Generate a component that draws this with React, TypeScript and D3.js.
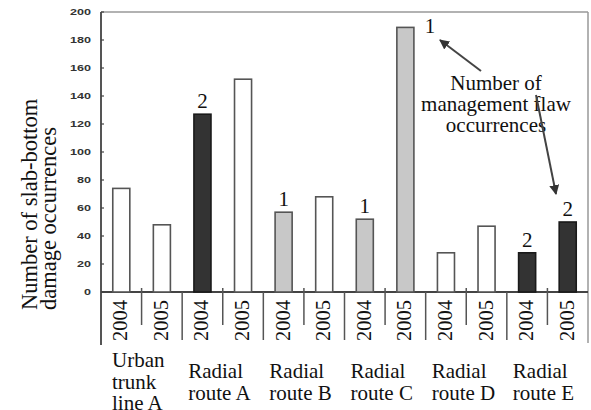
import React from "react";
import * as d3 from "d3";

const routes = ["Urban trunk line A", "Radial route A", "Radial route B", "Radial route C", "Radial route D", "Radial route E"];
const routeLabelLines = [["Urban", "trunk", "line A"], ["Radial", "route A"], ["Radial", "route B"], ["Radial", "route C"], ["Radial", "route D"], ["Radial", "route E"]];
const years = ["2004", "2005"];
const damageValues = [74, 48, 127, 152, 57, 68, 52, 189, 28, 47, 28, 50];
const flawCounts = [0, 0, 2, 0, 1, 0, 1, 1, 0, 0, 2, 2];
const yTicks = [0, 20, 40, 60, 80, 100, 120, 140, 160, 180, 200];
const yTitleLines = ["Number of slab-bottom", "damage occurrences"];
const noteLines = ["Number of", "management flaw", "occurrences"];

const W = 591, H = 410;
const left = 101, right = 588, top = 12, bottom = 292;

const fillFor = (f: number) => (f === 2 ? "#333333" : f === 1 ? "#c8c8c8" : "#ffffff");
const strokeFor = (f: number) => (f === 2 ? "#1a1a1a" : "#555555");

export default function App() {
  const n = damageValues.length;
  const x = d3.scaleBand<number>().domain(d3.range(n)).range([left, right]).paddingInner(0.58).paddingOuter(0.29);
  const y = d3.scaleLinear().domain([0, 200]).range([bottom, top]);
  const step = x.step();
  const groupStart = (g: number) => (x(g * 2) as number) - step * 0.29;
  const serif = "'Liberation Serif', 'Times New Roman', serif";

  return (
    <svg width={W} height={H} style={{ position: "absolute", left: 0, top: 0, background: "#fff" }}>
      <defs>
        <marker id="ah" viewBox="0 0 10 10" refX="9" refY="5" markerWidth="5" markerHeight="5" orient="auto-start-reverse">
          <path d="M0,0 L10,5 L0,10 z" fill="#333" />
        </marker>
      </defs>
      {/* frame */}
      <line x1={left} x2={right} y1={top} y2={top} stroke="#999" strokeWidth={1.5} />
      <line x1={right} x2={right} y1={top} y2={343} stroke="#999" strokeWidth={1.5} />
      <line x1={left} x2={left} y1={top} y2={345} stroke="#555" strokeWidth={2} />
      <line x1={left} x2={right} y1={bottom} y2={bottom} stroke="#444" strokeWidth={1.8} />
      {/* y ticks */}
      {yTicks.map((t) => (
        <g key={t}>
          <line x1={left} x2={left + 3} y1={y(t)} y2={y(t)} stroke="#444" strokeWidth={1.2} />
          <text x={91} y={y(t)} dy="0.35em" textAnchor="end" fontFamily="'Liberation Sans', Arial, sans-serif" fontWeight="bold" fontSize={9} fill="#333"
            textLength={t === 0 ? 7 : t < 100 ? 14 : 21} lengthAdjust="spacingAndGlyphs">{t}</text>
        </g>
      ))}
      {/* separators below axis */}
      {d3.range(1, n).map((i) => {
        const xs = (x(i) as number) - step * 0.29;
        const isGroup = i % 2 === 0;
        return <line key={i} x1={xs} x2={xs} y1={isGroup ? bottom : bottom - 4} y2={isGroup ? 340 : 325} stroke="#555" strokeWidth={1.5} />;
      })}
      {/* bars */}
      {damageValues.map((v, i) => (
        <rect key={i} x={x(i)} y={y(v)} width={x.bandwidth()} height={bottom - y(v)} fill={fillFor(flawCounts[i])} stroke={strokeFor(flawCounts[i])} strokeWidth={1.6} />
      ))}
      {/* flaw counts */}
      {damageValues.map((v, i) =>
        flawCounts[i] > 0 ? (
          <text key={i} x={v > 180 ? (x(i) as number) + x.bandwidth() + 16 : (x(i) as number) + x.bandwidth() / 2} y={v > 180 ? y(v) + 6 : y(v) - 6}
            textAnchor="middle" fontFamily={serif} fontSize={21} fill="#111">{flawCounts[i]}</text>
        ) : null
      )}
      {/* year labels */}
      {damageValues.map((_, i) => {
        const cx = (x(i) as number) + x.bandwidth() / 2 + 6;
        return (
          <text key={i} transform={`translate(${cx},341) rotate(-90)`} fontFamily={serif} fontSize={20.5} fill="#111">{years[i % 2]}</text>
        );
      })}
      {/* route labels */}
      {routes.map((r, g) => (
        <text key={r} fontFamily={serif} fontSize={21} fill="#111">
          {routeLabelLines[g].map((ln, k) => (
            <tspan key={k} x={groupStart(g) + (g === 0 ? 11 : 6)} y={(g === 0 ? 367 : 378) + k * 21.5}>{ln}</tspan>
          ))}
        </text>
      ))}
      {/* y title */}
      {yTitleLines.map((ln, k) => (
        <text key={k} transform={`translate(${37 + k * 19},310) rotate(-90)`} fontFamily={serif} fontSize={22.5} fill="#111">{ln}</text>
      ))}
      {/* annotation */}
      {noteLines.map((ln, k) => (
        <text key={k} x={496} y={90 + k * 21} textAnchor="middle" fontFamily={serif} fontSize={21} fill="#111">{ln}</text>
      ))}
      <line x1={481} y1={71} x2={440} y2={40} stroke="#444" strokeWidth={2} markerEnd="url(#ah)" />
      <line x1={536} y1={95} x2={556} y2={194} stroke="#444" strokeWidth={2} markerEnd="url(#ah)" />
    </svg>
  );
}
